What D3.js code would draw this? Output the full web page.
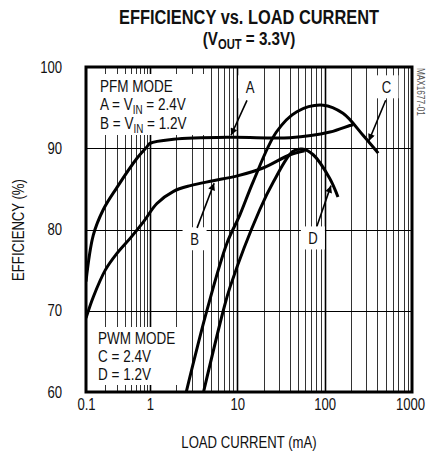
<!DOCTYPE html>
<html>
<head>
<meta charset="utf-8">
<script src="https://cdn.jsdelivr.net/npm/d3@7"></script>
<style>
  body { margin: 0; background: #fff; }
  text { font-family: "Liberation Sans", Arial, sans-serif; fill: #111; }
</style>
</head>
<body>
<div id="chart"></div>
<script>
// Efficiency (%) vs load current (mA)
const curveA = [[0.1, 73.6], [0.13, 79.3], [0.185, 82.4], [0.3, 85.1], [0.63, 88.8], [0.9, 90.2], [1.0, 90.6],
  [1.86, 91.1], [8.6, 91.35], [40, 91.3], [115, 92.0], [194, 92.8], [211, 92.9]];
const curveB = [[0.1, 69.1], [0.13, 71.7], [0.2, 75.0], [0.3, 77.0], [0.5, 79.0], [0.8, 81.0], [1.2, 83.2],
  [1.86, 84.7], [2.9, 85.4], [5.3, 86.0], [10, 86.6], [20, 87.6], [40, 89.2], [59, 89.7]];
const curveC = [[2.6, 60], [4.5, 70.1], [7.6, 78.3], [10.7, 81.8], [15.2, 85.9], [28, 92.0], [48, 94.5],
  [96, 95.3], [162, 94.3], [275, 91.6], [410, 89.4]];
const curveD = [[4.1, 60], [6.9, 70], [8.3, 73.0], [18, 82.4], [26, 85.9], [43, 89.6], [55, 89.9],
  [74, 89.2], [114, 86.3], [142, 84.0]];

const xTicks = [0.1, 1, 10, 100, 1000];
const xTickLabels = ["0.1", "1", "10", "100", "1000"];
const yTicks = [60, 70, 80, 90, 100];
const yGrid = [70, 80, 90];

// curve letters: [letter, label x, label y, arrow from x, from y, arrow to x, to y] in data units
const callouts = [
  ["A", 14.0, 97.5, 12.9, 95.9, 8.47, 91.6],
  ["B", 3.24, 78.8, 3.46, 80.2, 5.42, 85.7],
  ["C", 510, 97.5, 500, 95.9, 320, 90.9],
  ["D", 73.3, 78.9, 81.5, 80.4, 118, 85.4]
];

const W = 428, H = 454;
const margin = { top: 67, right: 16, bottom: 62, left: 86 };
const width = W - margin.left - margin.right;
const height = H - margin.top - margin.bottom;
const SQ = 0.82; // no narrow font installed, so squeeze the text sideways

const svg = d3.select("#chart").append("svg").attr("width", W).attr("height", H);

// text placed at (px,py) and squeezed about that point
function label(parent, px, py, size, anchor, f) {
  return parent.append("g").attr("transform", `translate(${px},${py}) scale(${f || SQ},1)`)
    .append("text").attr("text-anchor", anchor || "start").style("font-size", size + "px");
}
function withSub(t, a, sub, b, subSize) {
  t.append("tspan").text(a);
  t.append("tspan").attr("dy", 4).style("font-size", subSize + "px").text(sub);
  t.append("tspan").attr("dy", -4).text(b);
}

// title
label(svg, 249, 23.5, 20.5, "middle", 0.8).style("font-weight", "bold").text("EFFICIENCY vs. LOAD CURRENT");
withSub(label(svg, 249, 44.5, 19, "middle", 0.8).style("font-weight", "bold"), "(V", "OUT", " = 3.3V)", 14);

const g = svg.append("g").attr("transform", `translate(${margin.left},${margin.top})`);

// the first decade is squeezed in the original
const x = d3.scaleLog().domain([0.1, 1, 1000]).range([0, 64, width]);
const y = d3.scaleLinear().domain([60, 100]).range([height, 0]);

// grid
const vGrid = [];
[0.1, 1, 10, 100].forEach((dec) => {
  for (let k = 1; k <= 9; k++) vGrid.push(k * dec);
});
g.selectAll(".vg").data(vGrid.filter((v) => v > 0.1)).enter().append("line")
  .attr("x1", (d) => Math.round(x(d)) + 0.5).attr("x2", (d) => Math.round(x(d)) + 0.5)
  .attr("y1", 0).attr("y2", height)
  .attr("stroke", (d) => (xTicks.includes(d) ? "#000" : "#333"))
  .attr("stroke-width", (d) => (xTicks.includes(d) ? 1.6 : 1));
g.selectAll(".hg").data(yGrid).enter().append("line")
  .attr("x1", 0).attr("x2", width)
  .attr("y1", (d) => Math.round(y(d)) + 0.5).attr("y2", (d) => Math.round(y(d)) + 0.5)
  .attr("stroke", "#000").attr("stroke-width", 1.2);

// white boxes that cut the grid behind text
g.append("rect").attr("x", 2).attr("y", 7).attr("width", 122).attr("height", 61).attr("fill", "#fff");
g.append("rect").attr("x", 2).attr("y", 260).attr("width", 94).attr("height", 58).attr("fill", "#fff");
callouts.forEach((c) => {
  g.append("rect").attr("x", x(c[1]) - 12).attr("y", y(c[2]) - 12).attr("width", 24).attr("height", 23)
    .attr("fill", "#fff");
});

// curves
g.append("clipPath").attr("id", "clip").append("rect").attr("width", width).attr("height", height);
const line = d3.line().x((d) => x(d[0])).y((d) => y(d[1])).curve(d3.curveCatmullRom.alpha(0.5));
g.append("g").attr("clip-path", "url(#clip)").selectAll("path")
  .data([curveA, curveB, curveC, curveD]).enter().append("path")
  .attr("d", line).attr("fill", "none").attr("stroke", "#000").attr("stroke-width", 3)
  .attr("stroke-linejoin", "round");

// arrows
svg.append("defs").append("marker").attr("id", "arr").attr("viewBox", "0 0 10 10")
  .attr("refX", 10).attr("refY", 5).attr("markerWidth", 10).attr("markerHeight", 7)
  .attr("markerUnits", "userSpaceOnUse").attr("orient", "auto")
  .append("path").attr("d", "M0,0L10,5L0,10Z").attr("fill", "#000");
callouts.forEach((c) => {
  g.append("line").attr("x1", x(c[3])).attr("y1", y(c[4])).attr("x2", x(c[5])).attr("y2", y(c[6]))
    .attr("stroke", "#000").attr("stroke-width", 1.6).attr("marker-end", "url(#arr)");
  label(g, x(c[1]), y(c[2]) + 5.8, 16, "middle").text(c[0]);
});

// legend texts
label(g, 14, 24.5, 16.5).text("PFM MODE");
withSub(label(g, 14, 43, 16.5), "A = V", "IN", " = 2.4V", 12);
withSub(label(g, 14, 61.5, 16.5), "B = V", "IN", " = 1.2V", 12);
label(g, 12, 276.5, 16.5).text("PWM MODE");
label(g, 12, 295, 16.5).text("C = 2.4V");
label(g, 12, 313, 16.5).text("D = 1.2V");

// frame
g.append("rect").attr("width", width).attr("height", height).attr("fill", "none")
  .attr("stroke", "#000").attr("stroke-width", 3);

// axes labels
const xAxis = g.append("g").attr("transform", `translate(0,${height})`)
  .call(d3.axisBottom(x).tickValues(xTicks).tickSize(0).tickPadding(7).tickFormat((d, i) => xTickLabels[i]));
const yAxis = g.append("g")
  .call(d3.axisLeft(y).tickValues(yTicks).tickSize(0).tickPadding(24));
[xAxis, yAxis].forEach((a) => {
  a.select(".domain").remove();
  a.selectAll("text").style("font-size", "16px").attr("fill", "#111")
    .style("font-family", "'Liberation Sans', Arial, sans-serif")
    .attr("transform", `scale(${SQ},1)`);
});
yAxis.selectAll("text").attr("x", -24 / SQ);
xAxis.selectAll(".tick").filter((d) => d === 1000).select("text").attr("x", -2 / SQ);

label(svg, 249, 448, 16, "middle").text("LOAD CURRENT (mA)");
svg.append("g").attr("transform", "translate(24,230) rotate(-90) scale(0.82,1)")
  .append("text").attr("text-anchor", "middle").style("font-size", "16px").text("EFFICIENCY  (%)");
svg.append("g").attr("transform", "translate(417,68) rotate(90) scale(0.82,1)")
  .append("text").style("font-size", "10px").style("fill", "#555").text("MAX1677-01");
</script>
</body>
</html>
